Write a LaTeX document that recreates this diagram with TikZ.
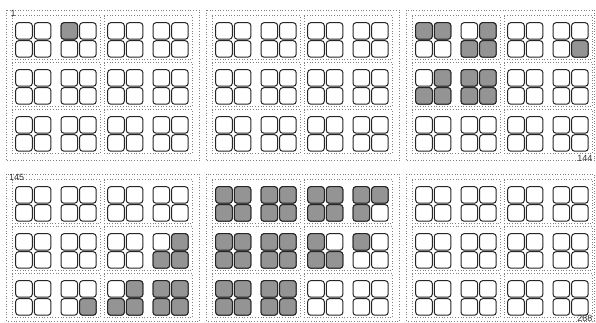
\documentclass[tikz,border=0pt]{standalone}
\usepackage{fontspec}
\setmainfont{Liberation Sans}
\newcommand{\seatCell}[5]{%
  \pgfmathsetmacro\seatX{#1+9+92*int(#3/4)+45.3*int(mod(#3,4)/2)+18.6*mod(#3,2)}%
  \pgfmathsetmacro\seatY{#2+12.7+47*int(#4/2)+18*mod(#4,2)}%
  \draw[#5] (\seatX,\seatY) rectangle ++(16.6,16.5);}
\newcommand{\seatPanel}[4]{%
  \draw[panelbox] (#1,#2) rectangle ++(#3,#4);
  \foreach \i in {0,1} \foreach \j in {0,1,2}
    \draw[subbox] (#1+5.6+92*\i,#2+5.7+47*\j) rectangle ++(87.7,43.6);
  \foreach \k in {0,...,7} \foreach \m in {0,...,5}
    \seatCell{#1}{#2}{\k}{\m}{cell};}

\begin{document}
\begin{tikzpicture}[x=1pt,y=-1pt,
  panelbox/.style={draw=black!50, dotted, line width=0.7pt},
  subbox/.style={draw=black!50, dotted, line width=0.7pt},
  cell/.style={draw=black!85, line width=1pt, rounded corners=3pt, fill=white},
  fullcell/.style={cell, fill=black!42},
  countlabel/.style={font=\fontsize{9}{9}\selectfont, text=black!80, inner sep=0pt}]
\useasboundingbox (0,0) rectangle (596,322);
\seatPanel{6.7}{10}{192.6}{150.7}
\seatPanel{206.7}{10}{192.6}{150.7}
\seatPanel{406.7}{10}{187.8}{150.7}
\seatPanel{6.7}{174}{192.6}{147}
\seatPanel{206.7}{174}{192.6}{147}
\seatPanel{406.7}{174}{187.8}{147}
% filled seats
\seatCell{6.7}{10}{2}{0}{fullcell}
\foreach \k/\m in {0/0,1/0,3/0,2/1,3/1,7/1,1/2,2/2,3/2,0/3,1/3,2/3,3/3}
  \seatCell{406.7}{10}{\k}{\m}{fullcell};
\foreach \k/\m in {7/2,6/3,7/3,3/5,5/4,6/4,7/4,4/5,5/5,6/5,7/5}
  \seatCell{6.7}{174}{\k}{\m}{fullcell};
\foreach \k/\m in {0/0,1/0,2/0,3/0,0/1,1/1,2/1,3/1,4/0,5/0,6/0,7/0,4/1,5/1,6/1,
  0/2,1/2,2/2,3/2,0/3,1/3,2/3,3/3,4/2,6/2,4/3,5/3,
  0/4,1/4,2/4,3/4,0/5,1/5,2/5,3/5}
  \seatCell{206.7}{174}{\k}{\m}{fullcell};
% counts
\node[countlabel, anchor=north west] (first) at (10.5,10) {1};
\node[countlabel, anchor=base east] (last) at (592.5,161.5) {144};
\node[countlabel, anchor=north west] (second) at (9,174) {145};
\node[countlabel, anchor=base east] (final) at (592.5,321.6) {288};
\end{tikzpicture}
\end{document}
